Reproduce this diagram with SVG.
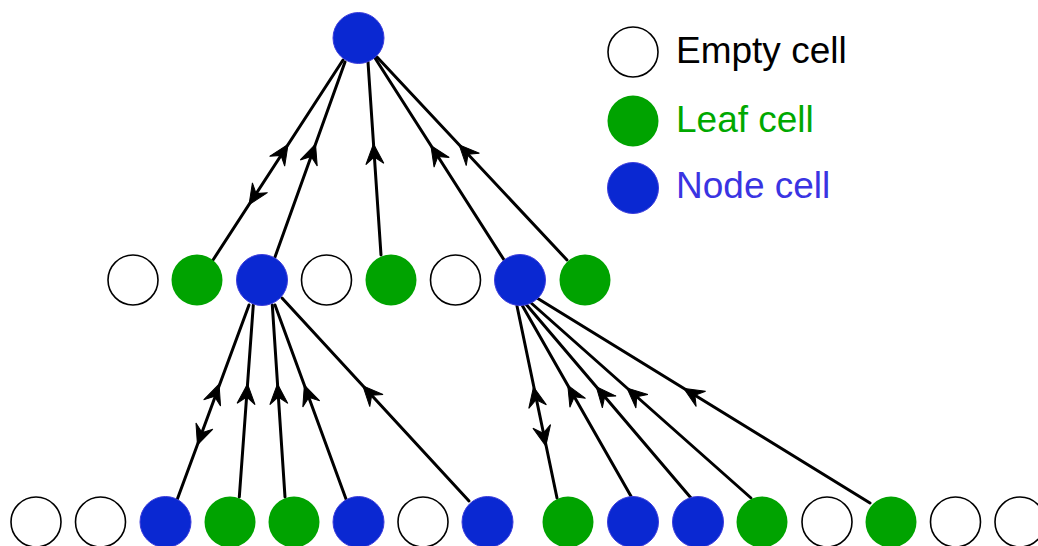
<svg xmlns="http://www.w3.org/2000/svg" xmlns:xlink="http://www.w3.org/1999/xlink" width="1038" height="546" viewBox="0 0 1038 546">
<style>
.empty{fill:#ffffff;stroke:#000000;stroke-width:1.6}
.leaf{fill:#00A300;stroke:none}
.node{fill:#0A28D2;stroke:#3D3DDC;stroke-width:1}
.edge{stroke:#000000;stroke-width:3;fill:none;stroke-linecap:round}
.ah{fill:#000000;stroke:#000000;stroke-width:1;stroke-linejoin:miter}
text{font-family:"Liberation Sans",Arial,sans-serif;font-size:37px}
</style>
<defs>
<path id="ah" d="M3,0 L-17,-9 L-10,0 L-17,9 Z"/>
</defs>
<rect width="1038" height="546" fill="#ffffff"/>
<g id="connectors">
<line class="edge" x1="213" y1="260" x2="343" y2="60"/>
<line class="edge" x1="275" y1="257" x2="345" y2="62"/>
<line class="edge" x1="381" y1="255" x2="368" y2="62"/>
<line class="edge" x1="506" y1="263" x2="375" y2="58"/>
<line class="edge" x1="567" y1="260" x2="377" y2="57"/>
<line class="edge" x1="177" y1="500" x2="249" y2="305"/>
<line class="edge" x1="239.3" y1="497" x2="253.3" y2="305"/>
<line class="edge" x1="285" y1="497" x2="272.3" y2="305"/>
<line class="edge" x1="346" y1="499" x2="275" y2="305"/>
<line class="edge" x1="469" y1="501" x2="282" y2="298"/>
<line class="edge" x1="557" y1="498" x2="517" y2="306"/>
<line class="edge" x1="632" y1="498" x2="522" y2="305"/>
<line class="edge" x1="691" y1="498" x2="525" y2="303"/>
<line class="edge" x1="751" y1="498" x2="530" y2="302"/>
<line class="edge" x1="870" y1="503" x2="537" y2="298"/>
<g class="ah">
<use xlink:href="#ah" transform="translate(286.4,147) rotate(-57)"/>
<use xlink:href="#ah" transform="translate(250.7,202) rotate(123)"/>
<use xlink:href="#ah" transform="translate(314.5,147) rotate(-70.25)"/>
<use xlink:href="#ah" transform="translate(373.7,147) rotate(-93.85)"/>
<use xlink:href="#ah" transform="translate(432.5,148) rotate(-122.6)"/>
<use xlink:href="#ah" transform="translate(461.2,147) rotate(-133.1)"/>
<use xlink:href="#ah" transform="translate(218,387) rotate(-69.7)"/>
<use xlink:href="#ah" transform="translate(198.5,442) rotate(110.3)"/>
<use xlink:href="#ah" transform="translate(247.3,387) rotate(-85.8)"/>
<use xlink:href="#ah" transform="translate(277.7,387) rotate(-93.8)"/>
<use xlink:href="#ah" transform="translate(305.4,388) rotate(-110.1)"/>
<use xlink:href="#ah" transform="translate(364.9,388) rotate(-132.6)"/>
<use xlink:href="#ah" transform="translate(534.1,390) rotate(-101.8)"/>
<use xlink:href="#ah" transform="translate(545.2,443) rotate(78.2)"/>
<use xlink:href="#ah" transform="translate(569.3,388) rotate(-119.7)"/>
<use xlink:href="#ah" transform="translate(598.2,389) rotate(-130.4)"/>
<use xlink:href="#ah" transform="translate(629.2,390) rotate(-138.4)"/>
<use xlink:href="#ah" transform="translate(686.4,390) rotate(-148.4)"/>
</g>
</g>
<g id="root"><circle class="node" cx="358.5" cy="38" r="25.5"/></g>
<g id="r2c1"><circle class="empty" cx="133" cy="280" r="25"/></g>
<g id="r2c2"><circle class="leaf" cx="197" cy="280" r="25.5"/></g>
<g id="r2c3"><circle class="node" cx="262" cy="280" r="25.5"/></g>
<g id="r2c4"><circle class="empty" cx="326.5" cy="280" r="25"/></g>
<g id="r2c5"><circle class="leaf" cx="391" cy="280" r="25.5"/></g>
<g id="r2c6"><circle class="empty" cx="455.5" cy="280" r="25"/></g>
<g id="r2c7"><circle class="node" cx="520" cy="280" r="25.5"/></g>
<g id="r2c8"><circle class="leaf" cx="585" cy="280" r="25.5"/></g>
<g id="r3c1"><circle class="empty" cx="36" cy="522" r="25"/></g>
<g id="r3c2"><circle class="empty" cx="100.5" cy="522" r="25"/></g>
<g id="r3c3"><circle class="node" cx="165.5" cy="522" r="25.5"/></g>
<g id="r3c4"><circle class="leaf" cx="230" cy="522" r="25.5"/></g>
<g id="r3c5"><circle class="leaf" cx="294" cy="522" r="25.5"/></g>
<g id="r3c6"><circle class="node" cx="358.5" cy="522" r="25.5"/></g>
<g id="r3c7"><circle class="empty" cx="423" cy="522" r="25"/></g>
<g id="r3c8"><circle class="node" cx="487.5" cy="522" r="25.5"/></g>
<g id="r3c9"><circle class="leaf" cx="568" cy="522" r="25.5"/></g>
<g id="r3c10"><circle class="node" cx="633" cy="522" r="25.5"/></g>
<g id="r3c11"><circle class="node" cx="698" cy="522" r="25.5"/></g>
<g id="r3c12"><circle class="leaf" cx="762" cy="522" r="25.5"/></g>
<g id="r3c13"><circle class="empty" cx="827" cy="522" r="25"/></g>
<g id="r3c14"><circle class="leaf" cx="891" cy="522" r="25.5"/></g>
<g id="r3c15"><circle class="empty" cx="955.5" cy="522" r="25"/></g>
<g id="r3c16"><circle class="empty" cx="1020" cy="522" r="25"/></g>
<g id="legend">
<circle class="empty" cx="633" cy="52" r="25"/>
<text x="676" y="63.3" fill="#000000">Empty cell</text>
<circle class="leaf" cx="633" cy="121" r="25.5"/>
<text x="676" y="131.7" fill="#00A800">Leaf cell</text>
<circle class="node" cx="633" cy="188" r="25.5"/>
<text x="676" y="198.3" fill="#3A34E2">Node cell</text>
</g>
</svg>
